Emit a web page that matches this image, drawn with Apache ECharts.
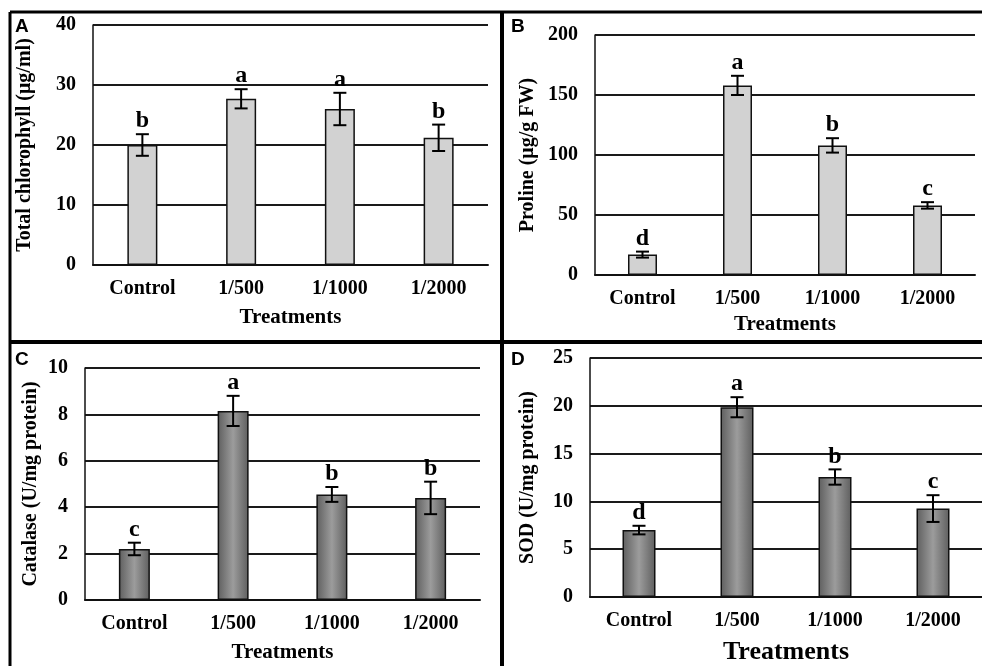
<!DOCTYPE html>
<html>
<head>
<meta charset="utf-8">
<script src="https://cdn.jsdelivr.net/npm/echarts@6/dist/echarts.min.js"></script>
<style>html,body{margin:0;padding:0;background:#fff}#c{width:982px;height:666px}</style>
</head>
<body>
<div id="c"></div>
<script>
const categories = ['Control', '1/500', '1/1000', '1/2000'];

const chlorophyll = [20.0, 27.7, 26.0, 21.2];
const chlorophyllErr = [1.8, 1.6, 2.7, 2.2];
const chlorophyllLetters = ['b', 'a', 'a', 'b'];

const proline = [17, 158, 108, 58];
const prolineErr = [2.5, 8, 6, 2.7];
const prolineLetters = ['d', 'a', 'b', 'c'];

const catalase = [2.2, 8.15, 4.55, 4.4];
const catalaseErr = [0.27, 0.65, 0.32, 0.7];
const catalaseLetters = ['c', 'a', 'b', 'b'];

const sod = [7.0, 19.85, 12.55, 9.25];
const sodErr = [0.45, 1.05, 0.8, 1.4];
const sodLetters = ['d', 'a', 'b', 'c'];

const panels = [
  {letter:'A', name:'Total chlorophyll (μg/ml)', vals:chlorophyll, errs:chlorophyllErr, lets:chlorophyllLetters, max:40, interval:10,
   grid:{left:93, top:25, width:395, height:240}, barWidth:30, light:true, yGap:58, xGap:42, xNameSize:21},
  {letter:'B', name:'Proline (μg/g FW)', vals:proline, errs:prolineErr, lets:prolineLetters, max:200, interval:50,
   grid:{left:595, top:35, width:380, height:240}, barWidth:29, light:true, yGap:57, xGap:39, xNameSize:21},
  {letter:'C', name:'Catalase (U/mg protein)', vals:catalase, errs:catalaseErr, lets:catalaseLetters, max:10, interval:2,
   grid:{left:85, top:368, width:395, height:232}, barWidth:31, light:false, yGap:44, xGap:42, xNameSize:21},
  {letter:'D', name:'SOD (U/mg protein)', vals:sod, errs:sodErr, lets:sodLetters, max:25, interval:5,
   grid:{left:590, top:358, width:405, height:240}, barWidth:33, light:false, yGap:52, xGap:42, xNameSize:26}
];

const serif = '"Liberation Serif", "Times New Roman", serif';

const grids = [], xAxes = [], yAxes = [], series = [];
panels.forEach((p, i) => {
  grids.push(Object.assign({containLabel:false}, p.grid));
  xAxes.push({
    type:'category', gridIndex:i, data:categories,
    name:'Treatments', nameLocation:'middle', nameGap:p.xGap, nameMoveOverlap:false,
    nameTextStyle:{fontFamily:serif, fontWeight:'bold', fontSize:p.xNameSize, color:'#000'},
    axisLine:{show:true, lineStyle:{color:'#111', width:2}},
    axisTick:{show:false},
    axisLabel:{fontFamily:serif, fontWeight:'bold', fontSize:20, color:'#000', margin:14, interval:0},
    z:5
  });
  yAxes.push({
    type:'value', gridIndex:i, min:0, max:p.max, interval:p.interval,
    name:p.name, nameLocation:'middle', nameGap:p.yGap, nameMoveOverlap:false,
    nameTextStyle:{fontFamily:serif, fontWeight:'bold', fontSize:20, color:'#000'},
    axisLine:{show:true, lineStyle:{color:'#111', width:1.5}},
    axisTick:{show:false},
    axisLabel:{fontFamily:serif, fontWeight:'bold', fontSize:20, color:'#000', margin:17},
    splitLine:{show:true, lineStyle:{color:'#1a1a1a', width:1.8}}
  });
  const fill = p.light ? '#d2d2d2' : {
    type:'linear', x:0, y:0, x2:1, y2:0,
    colorStops:[{offset:0, color:'#5e5e5e'}, {offset:0.5, color:'#9c9c9c'}, {offset:1, color:'#5e5e5e'}]
  };
  series.push({
    type:'bar', xAxisIndex:i, yAxisIndex:i, data:p.vals, barWidth:p.barWidth,
    itemStyle:{color:fill, borderColor:'#111', borderWidth:1.5},
    z:3, silent:true
  });
  const errData = p.vals.map((v, k) => [k, v, p.errs[k]]);
  const lets = p.lets;
  series.push({
    type:'custom', xAxisIndex:i, yAxisIndex:i, data:errData, z:10, silent:true,
    renderItem:function(params, api){
      const x = api.value(0), v = api.value(1), e = api.value(2);
      const t = api.coord([x, v + e]);
      const b = api.coord([x, v - e]);
      const hw = 6.5;
      const st = {stroke:'#000', lineWidth:2};
      return {type:'group', children:[
        {type:'line', shape:{x1:t[0], y1:t[1], x2:b[0], y2:b[1]}, style:st},
        {type:'line', shape:{x1:t[0]-hw, y1:t[1], x2:t[0]+hw, y2:t[1]}, style:st},
        {type:'line', shape:{x1:b[0]-hw, y1:b[1], x2:b[0]+hw, y2:b[1]}, style:st},
        {type:'text', x:t[0], y:t[1]-1, style:{text:lets[params.dataIndex], fill:'#000',
          font:'bold 24px ' + serif, align:'center', verticalAlign:'bottom'}}
      ]};
    }
  });
});

const panelLetters = [
  {t:'A', x:15, y:17}, {t:'B', x:511, y:17}, {t:'C', x:15, y:350}, {t:'D', x:511, y:350}
];
const graphic = [
  {type:'line', shape:{x1:10, y1:12, x2:982, y2:12}, style:{stroke:'#000', lineWidth:3}},
  {type:'line', shape:{x1:10, y1:12, x2:10, y2:666}, style:{stroke:'#000', lineWidth:3}},
  {type:'line', shape:{x1:502, y1:12, x2:502, y2:666}, style:{stroke:'#000', lineWidth:4}},
  {type:'line', shape:{x1:10, y1:342, x2:982, y2:342}, style:{stroke:'#000', lineWidth:4}}
].concat(panelLetters.map(l => ({type:'text', x:l.x, y:l.y, z:20,
  style:{text:l.t, fill:'#000', font:'bold 19px "Liberation Sans", Arial, sans-serif'}})));

const chart = echarts.init(document.getElementById('c'), null, {renderer:'canvas'});
chart.setOption({
  animation:false,
  backgroundColor:'#fff',
  grid:grids, xAxis:xAxes, yAxis:yAxes, series:series, graphic:graphic
});
</script>
</body>
</html>
